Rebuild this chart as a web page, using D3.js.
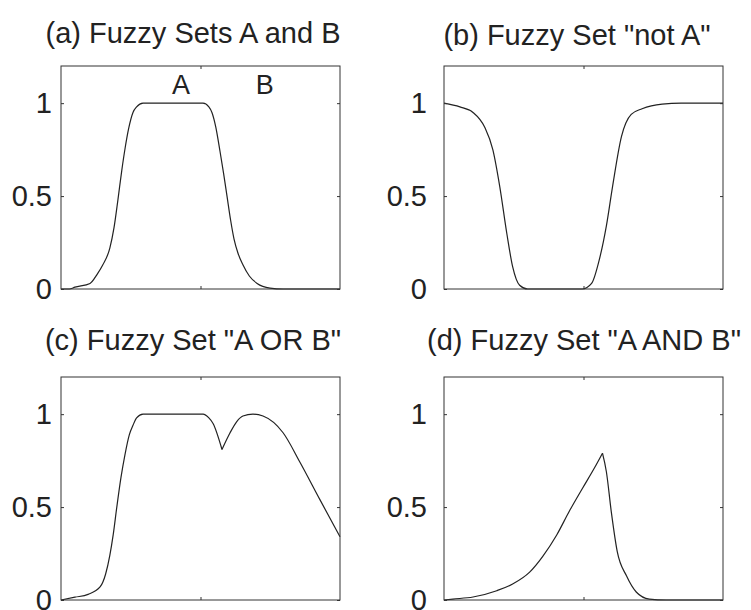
<!DOCTYPE html>
<html>
<head>
<meta charset="utf-8">
<script src="https://cdn.jsdelivr.net/npm/d3@7"></script>
<style>
  body { margin: 0; background: #fff; }
  svg { font-family: "Liberation Sans", Arial, sans-serif; }
</style>
</head>
<body>
<svg width="751" height="610"></svg>
<script>
// membership values, x on a 0..10 universe
const setA = [[0,0],[0.3,0],[0.5,0.01],[1.04,0.03],[1.3,0.08],[1.5,0.13],[1.75,0.22],[1.9,0.33],[2.04,0.48],[2.18,0.64],[2.3,0.76],[2.42,0.86],[2.58,0.95],[2.71,0.98],[2.94,1.0],
              [5.09,1.0],[5.3,0.98],[5.41,0.95],[5.55,0.87],[5.7,0.74],[5.83,0.62],[5.95,0.50],[6.08,0.37],[6.2,0.27],[6.35,0.19],[6.52,0.13],[6.75,0.07],[7.03,0.03],[7.49,0.005],[7.96,0],[10,0]];
const setNotA = [[0,1.0],[0.57,0.98],[1.04,0.95],[1.46,0.87],[1.75,0.75],[2.0,0.55],[2.25,0.30],[2.46,0.12],[2.71,0.02],[3.0,0],
                 [4.96,0],[5.29,0.03],[5.57,0.16],[5.82,0.34],[6.04,0.55],[6.36,0.82],[6.71,0.94],[7.1,0.97],[7.82,0.995],[8.5,1.0],[10,1.0]];
const setAorB = [[0,0],[0.5,0.015],[0.97,0.03],[1.4,0.07],[1.6,0.14],[1.75,0.24],[1.87,0.35],[2.0,0.50],[2.15,0.66],[2.29,0.78],[2.45,0.89],[2.58,0.94],[2.71,0.98],[2.94,1.0],
                 [5.09,1.0],[5.3,0.98],[5.45,0.95],[5.77,0.81],[6.06,0.90],[6.3,0.96],[6.52,0.99],[6.88,1.0],[7.24,0.99],[7.96,0.90],[8.57,0.74],[9.28,0.54],[10,0.34]];
const setAandB = [[0,0],[0.32,0.005],[1.04,0.016],[1.89,0.05],[2.46,0.086],[3.07,0.15],[3.54,0.235],[4.04,0.35],[4.5,0.48],[4.96,0.60],[5.39,0.71],[5.68,0.79],
                  [5.82,0.69],[6.0,0.47],[6.21,0.26],[6.54,0.13],[6.89,0.043],[7.36,0.005],[7.96,0],[10,0]];

const titles = ["(a) Fuzzy Sets A and B", "(b) Fuzzy Set \"not A\"", "(c) Fuzzy Set \"A OR B\"", "(d) Fuzzy Set \"A AND B\""];
const series = [setA, setNotA, setAorB, setAandB];
const cusps = [[], [], [5.77], [5.68]];   // sharp corners (min/max of two sets)
const yTicks = [0, 0.5, 1];
const yTickLabels = ["0", "0.5", "1"];
const xTicks = [5];
const curveLabels = [{text: "A", x: 4.3}, {text: "B", x: 7.3}];

const svg = d3.select("svg");
const w = 279, h = 223;
const layout = [
  {x: 61, y: 66, pad: 9, tx: 193, ty: 43},
  {x: 444, y: 66, pad: 17, tx: 577, ty: 45},
  {x: 61, y: 377, pad: 9, tx: 193, ty: 350},
  {x: 444, y: 377, pad: 17, tx: 584, ty: 350}
];

const x = d3.scaleLinear().domain([0, 10]).range([0, w]);
const y = d3.scaleLinear().domain([0, 1.2]).range([h, 0]);

const line = d3.line()
  .x(d => x(d[0]))
  .y(d => y(d[1]))
  .curve(d3.curveMonotoneX);

series.forEach((data, i) => {
  const L = layout[i];
  const g = svg.append("g").attr("transform", `translate(${L.x},${L.y})`);

  // split at cusps so the smoothing keeps the corner sharp
  let pieces = [], cur = [];
  data.forEach(d => {
    cur.push(d);
    if (cusps[i].includes(d[0])) { pieces.push(cur); cur = [d]; }
  });
  pieces.push(cur);
  g.selectAll("path.curve").data(pieces).enter().append("path")
    .attr("class", "curve")
    .attr("d", line)
    .attr("fill", "none")
    .attr("stroke", "#222")
    .attr("stroke-width", 1.2);

  const left = g.append("g")
    .call(d3.axisLeft(y).tickValues(yTicks).tickSize(-3).tickPadding(L.pad)
      .tickFormat((d, j) => yTickLabels[j]));
  const right = g.append("g").attr("transform", `translate(${w},0)`)
    .call(d3.axisRight(y).tickValues(yTicks).tickSize(-3).tickFormat(""));
  const top = g.append("g")
    .call(d3.axisTop(x).tickValues(xTicks).tickSize(-3).tickFormat(""));
  const bottom = g.append("g").attr("transform", `translate(0,${h})`)
    .call(d3.axisBottom(x).tickValues(xTicks).tickSize(-3).tickFormat(""));

  [left, right, top, bottom].forEach(a => {
    a.select(".domain").remove();
    a.selectAll("line").attr("stroke", "#333");
  });
  left.selectAll("text")
    .attr("font-size", 29)
    .attr("font-family", "Liberation Sans, Arial, sans-serif")
    .attr("fill", "#222");

  g.append("rect")
    .attr("width", w).attr("height", h)
    .attr("fill", "none")
    .attr("stroke", "#333")
    .attr("stroke-width", 1);

  svg.append("text")
    .attr("x", L.tx).attr("y", L.ty)
    .attr("text-anchor", "middle")
    .attr("font-size", 29)
    .attr("fill", "#222")
    .text(titles[i]);

  if (i === 0) {
    g.selectAll("text.lbl").data(curveLabels).enter().append("text")
      .attr("class", "lbl")
      .attr("x", d => x(d.x))
      .attr("y", y(1.05))
      .attr("text-anchor", "middle")
      .attr("font-size", 27)
      .attr("fill", "#222")
      .text(d => d.text);
  }
});
</script>
</body>
</html>
